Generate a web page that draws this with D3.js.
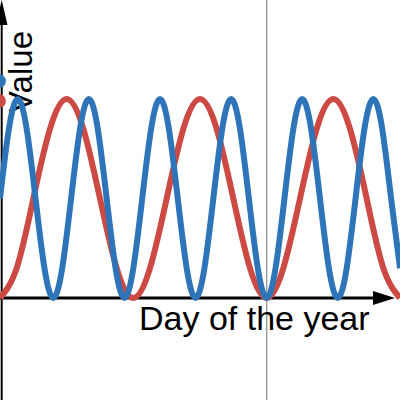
<!DOCTYPE html>
<html>
<head>
<meta charset="utf-8">
<script src="https://cdn.jsdelivr.net/npm/d3@7"></script>
<style>
  body { margin: 0; background: #fff; }
  svg { display: block; }
  text { font-family: "Liberation Sans", Arial, sans-serif; }
</style>
</head>
<body>
<div id="chart"></div>
<script>
(function () {
    var width = 400, height = 400;

    // values
    var redDays = d3.range(0, 361, 15);
    var redValues = [0, 0.15, 0.5, 0.85, 1, 0.85, 0.5, 0.15,
                     0, 0.15, 0.5, 0.85, 1, 0.85, 0.5, 0.15,
                     0, 0.15, 0.5, 0.85, 1, 0.85, 0.5, 0.15, 0];
    var blueDays = d3.range(0, 361, 8);
    var blueValues = [0.5, 0.85, 1, 0.85, 0.5, 0.15, 0, 0.15,
                      0.5, 0.85, 1, 0.85, 0.5, 0.15, 0, 0.15,
                      0.5, 0.85, 1, 0.85, 0.5, 0.15, 0, 0.15,
                      0.5, 0.85, 1, 0.85, 0.5, 0.15, 0, 0.15,
                      0.5, 0.85, 1, 0.85, 0.5, 0.15, 0, 0.15,
                      0.5, 0.85, 1, 0.85, 0.5, 0.15];
    var markerDay = 240;
    var dotValues = [1.09, 0.99];
    var colors = ["#2e74b8", "#cc4a43"];

    var x = d3.scaleLinear().domain([0, 360]).range([0, 400]);
    var y = d3.scaleLinear().domain([0, 1]).range([298, 99]);

    var svg = d3.select("#chart")
        .append("svg")
        .attr("width", width)
        .attr("height", height);

    // today line
    svg.append("line")
        .attr("x1", x(markerDay)).attr("x2", x(markerDay))
        .attr("y1", 0).attr("y2", height)
        .attr("stroke", "#9a9a9a")
        .attr("stroke-width", 1.5);

    // y axis with arrow
    svg.append("line")
        .attr("x1", 1.7).attr("x2", 1.7)
        .attr("y1", 20).attr("y2", height)
        .attr("stroke", "#000")
        .attr("stroke-width", 2);
    svg.append("path")
        .attr("d", "M1.7,0 L7.5,25 L-4.1,25 Z")
        .attr("fill", "#000");

    // x axis with arrow
    svg.append("line")
        .attr("x1", 0).attr("x2", 376)
        .attr("y1", y(0)).attr("y2", y(0))
        .attr("stroke", "#000")
        .attr("stroke-width", 3);
    svg.append("path")
        .attr("d", "M395," + y(0) + " L373," + (y(0) - 7) + " L373," + (y(0) + 7) + " Z")
        .attr("fill", "#000");

    svg.append("text")
        .attr("x", 139)
        .attr("y", 330)
        .attr("font-size", 34)
        .attr("fill", "#000")
        .text("Day of the year");

    svg.append("text")
        .attr("transform", "translate(32,31) rotate(-90)")
        .attr("text-anchor", "end")
        .attr("font-size", 33)
        .attr("fill", "#000")
        .text("Value");

    var line = d3.line()
        .x(function (d) { return x(d[0]); })
        .y(function (d) { return y(d[1]); })
        .curve(d3.curveNatural);

    var series = [
        { color: colors[1], pts: d3.zip(redDays, redValues) },
        { color: colors[0], pts: d3.zip(blueDays, blueValues) }
    ];

    svg.selectAll(".series")
        .data(series)
        .enter().append("path")
        .attr("class", "series")
        .attr("d", function (d) { return line(d.pts); })
        .attr("fill", "none")
        .attr("stroke", function (d) { return d.color; })
        .attr("stroke-width", 6);

    svg.selectAll(".dot")
        .data(dotValues)
        .enter().append("circle")
        .attr("class", "dot")
        .attr("cx", x(-1))
        .attr("cy", function (d) { return y(d); })
        .attr("r", 7)
        .attr("fill", function (d, i) { return colors[i]; });
})();
</script>
</body>
</html>
